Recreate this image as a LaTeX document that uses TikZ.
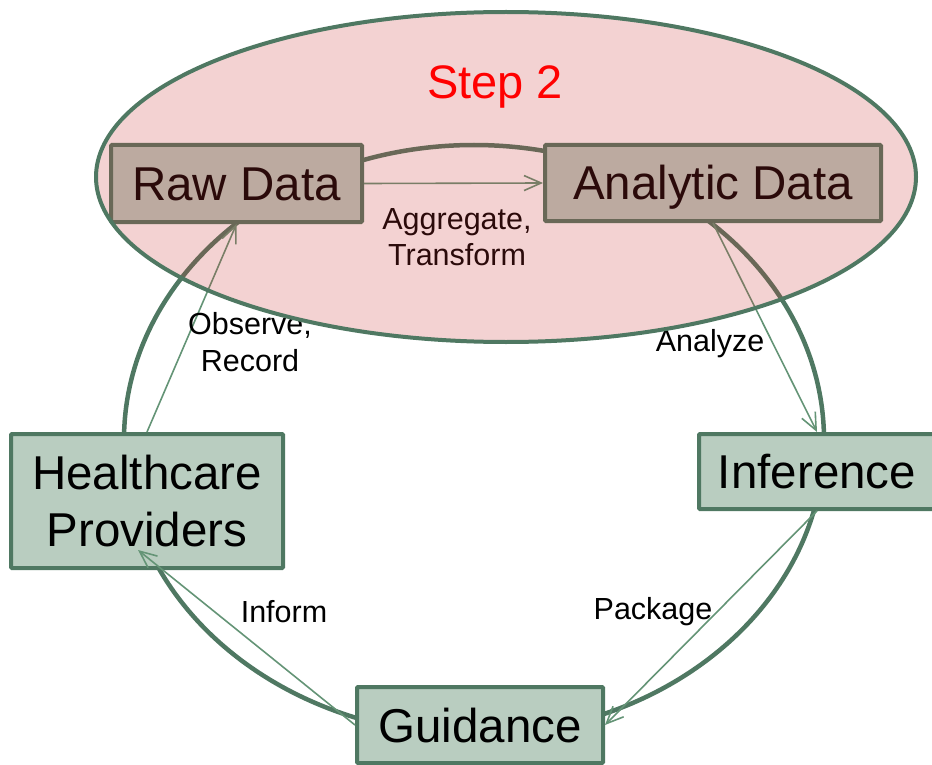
\documentclass[tikz,border=0pt]{standalone}
\usepackage{fontspec}
\setmainfont{Liberation Sans}
\usetikzlibrary{arrows.meta}
\definecolor{boxgreen}{RGB}{185,205,192}
\definecolor{linegreen}{RGB}{79,120,98}
\definecolor{arrowgreen}{RGB}{100,148,118}
\definecolor{steppink}{RGB}{200,50,50}

\begin{document}
\begin{tikzpicture}[x=1pt,y=-1pt,
  box/.style={draw=linegreen, fill=boxgreen, line width=4pt, rounded corners=1pt, inner sep=0pt, align=center, font=\fontsize{47.5}{57}\selectfont},
  oneline/.style={text height=34pt, text depth=0pt},
  flow/.style={draw=arrowgreen, line width=1.6pt, -{Straight Barb[length=17pt,width=15pt]}},
  lbl/.style={align=center, font=\fontsize{30.5}{36.5}\selectfont}]
\useasboundingbox (0,0) rectangle (932,765);

% the cycle ring
\draw[linegreen, line width=4.5pt] (474,440) ellipse [x radius=350, y radius=295];

\node[box, oneline, minimum width=251pt, minimum height=77pt] (raw) at (236.5,183.5) {Raw Data};
\node[box, oneline, minimum width=336pt, minimum height=76pt] (ana) at (713,183) {Analytic Data};
\node[box, oneline, minimum width=236pt, minimum height=75pt] (inf) at (817,471.5) {Inference};
\node[box, oneline, minimum width=246pt, minimum height=76pt] (guid) at (480,725) {Guidance};
\node[box, minimum width=272pt, minimum height=134pt] (hp) at (147,501) {Healthcare\\Providers};

\draw[flow] (raw.east) -- (ana.west);
\draw[flow] (ana.south) -- (inf.north);
\draw[flow] (inf.south) -- (guid.east);
\draw[flow] (guid.west) -- ([xshift=-9pt,yshift=20pt]hp.south);
\draw[flow] (hp.north) -- (raw.south);

\node[lbl] (aggregate) at (457,237) {Aggregate,\\Transform};
\node[lbl] (analyze) at (710,344) {Analyze};
\node[lbl] (package) at (653,612) {Package};
\node[lbl] (inform) at (284,612) {Inform};
\node[lbl] (observe) at (250,342) {Observe,\\Record};

% step 2 bubble
\draw[linegreen, line width=4pt, fill=steppink, fill opacity=0.22] (506,177) ellipse [x radius=410, y radius=165];
\node[text=red, font=\fontsize{47}{56}\selectfont] (step) at (495,87) {Step 2};
\end{tikzpicture}
\end{document}
